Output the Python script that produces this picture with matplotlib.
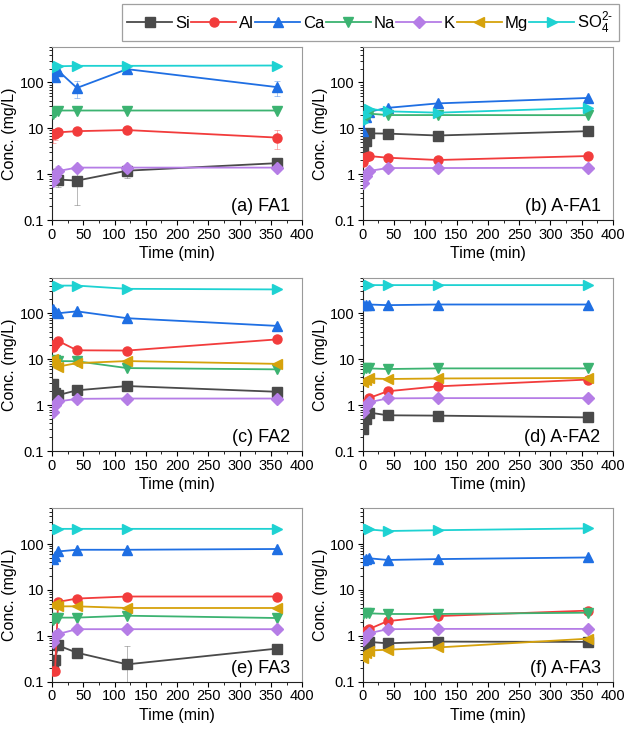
import numpy as np
import matplotlib
matplotlib.use("Agg")
import matplotlib.pyplot as plt
from matplotlib.ticker import FixedLocator, NullFormatter, LogLocator, MultipleLocator

plt.rcParams['font.family'] = ['Liberation Sans', 'DejaVu Sans']
plt.rcParams['mathtext.fontset'] = 'custom'
plt.rcParams['mathtext.rm'] = 'Liberation Sans'

# sampling times (min)
t = [1, 5, 10, 40, 120, 360]

species = ['Si', 'Al', 'Ca', 'Na', 'K', 'Mg', 'SO4']
labels = ['Si', 'Al', 'Ca', 'Na', 'K', 'Mg', r'SO$_4^{2\text{-}}$']
colors = ['#4a4a4a', '#f23c3c', '#1f6fe3', '#3cb371', '#b57de6', '#d6a20c', '#1ed2d2']
markers = ['s', 'o', '^', 'v', 'D', '<', '>']

# (a) FA1 - no Mg
fa1 = {'Si': [1.0, 0.8, 0.77, 0.73, 1.2, 1.75],
       'Al': [7.4, 7.5, 8.2, 8.7, 9.2, 6.3],
       'Ca': [142, 130, 180, 76, 195, 79],
       'Na': [21, 23, 24.5, 24.5, 24.5, 24.5],
       'K': [0.72, 0.9, 1.18, 1.4, 1.4, 1.4],
       'SO4': [200, 215, 225, 230, 230, 234]}
fa1_err = {'Si': [0, 0, 0.25, 0.52, 0.35, 0.5],
           'Al': [2.5, 2.0, 1.0, 0, 0, 2.8],
           'Ca': [0, 0, 0, 30, 0, 28],
           'K': [0, 0, 0.3, 0, 0, 0]}

# (b) A-FA1 - no Mg
afa1 = {'Si': [3.2, 5.3, 7.8, 7.7, 7.0, 8.7],
        'Al': [1.9, 2.4, 2.5, 2.3, 2.05, 2.5],
        'Ca': [8.7, 18, 23, 28, 35, 46],
        'Na': [16, 18, 21, 19.5, 19.5, 19.4],
        'K': [0.66, 0.92, 1.18, 1.37, 1.37, 1.39],
        'SO4': [14, 20, 27, 23.5, 22, 28]}

# (c) FA2
fa2 = {'Si': [2.9, 1.85, 1.65, 2.1, 2.6, 1.95],
       'Al': [18, 21.4, 25, 15.6, 15.4, 27],
       'Ca': [122, 105, 100, 110, 78, 53],
       'Na': [9.0, 9.5, 9.1, 9.0, 6.4, 6.0],
       'K': [0.7, 1.0, 1.2, 1.37, 1.39, 1.39],
       'Mg': [10, 7.9, 6.9, 8.2, 9.1, 7.9],
       'SO4': [420, 400, 400, 400, 340, 330]}

# (d) A-FA2
afa2 = {'Si': [0.3, 0.5, 0.69, 0.6, 0.59, 0.54],
        'Al': [0.85, 1.1, 1.42, 2.0, 2.56, 3.6],
        'Ca': [150, 152, 155, 150, 155, 155],
        'Na': [5.8, 6.3, 6.3, 6.1, 6.3, 6.3],
        'K': [0.7, 0.97, 1.15, 1.4, 1.42, 1.42],
        'Mg': [3.2, 3.6, 3.8, 3.7, 3.8, 3.9],
        'SO4': [400, 405, 410, 410, 410, 410]}

# (e) FA3
fa3 = {'Si': [0.2, 0.3, 0.62, 0.43, 0.24, 0.53],
       'Al': [0.17, 0.17, 5.5, 6.5, 7.2, 7.2],
       'Ca': [47, 55, 69, 75, 75, 78],
       'Na': [2.2, 2.5, 2.5, 2.5, 2.75, 2.45],
       'K': [0.75, 0.97, 1.1, 1.4, 1.4, 1.4],
       'Mg': [4.8, 5.0, 4.4, 4.4, 4.05, 4.05],
       'SO4': [200, 210, 214, 214, 214, 214]}
fa3_err = {'Si': [0, 0, 0, 0, 0.35, 0]}

# (f) A-FA3
afa3 = {'Si': [0.45, 0.58, 0.74, 0.69, 0.75, 0.74],
        'Al': [1.0, 1.25, 1.4, 2.1, 2.7, 3.55],
        'Ca': [45, 47, 49, 45, 47, 51],
        'Na': [3.0, 3.1, 3.1, 3.0, 3.0, 3.2],
        'K': [0.8, 1.0, 1.14, 1.4, 1.42, 1.42],
        'Mg': [0.33, 0.42, 0.48, 0.5, 0.56, 0.87],
        'SO4': [210, 220, 208, 192, 200, 219]}

panels = [(fa1, fa1_err, '(a) FA1'), (afa1, None, '(b) A-FA1'),
          (fa2, None, '(c) FA2'), (afa2, None, '(d) A-FA2'),
          (fa3, fa3_err, '(e) FA3'), (afa3, None, '(f) A-FA3')]

fig, axes = plt.subplots(3, 2, figsize=(6.25, 7.3), dpi=100)
fig.subplots_adjust(left=0.083, right=0.981, top=0.936, bottom=0.066,
                    wspace=0.24, hspace=0.33)

for ax, (data, err, title) in zip(axes.flat, panels):
    for sp, lab, c, m in zip(species, labels, colors, markers):
        if sp not in data:
            continue
        yerr = None
        if err is not None and sp in err:
            yerr = err[sp]
        h = ax.errorbar(t, data[sp], yerr=yerr, color=c, marker=m, ms=6.5,
                        lw=1.3, ecolor=c, elinewidth=0.6, capsize=2.5,
                        capthick=0.6, label=lab, zorder=3)
        if yerr is not None:
            for bar in h[2]:
                bar.set_alpha(0.45)
            for cap in h[1]:
                cap.set_alpha(0.45)
    ax.set_yscale('log')
    ax.set_ylim(0.1, 600)
    ax.set_xlim(0, 400)
    ax.yaxis.set_major_locator(FixedLocator([0.1, 1, 10, 100]))
    ax.set_yticklabels(['0.1', '1', '10', '100'])
    ax.yaxis.set_minor_locator(LogLocator(base=10, subs=np.arange(2, 10)))
    ax.yaxis.set_minor_formatter(NullFormatter())
    ax.xaxis.set_major_locator(MultipleLocator(50))
    ax.xaxis.set_minor_locator(MultipleLocator(25))
    ax.tick_params(which='major', direction='out', length=3.5, width=0.8,
                   labelsize=10.5, pad=2)
    ax.tick_params(which='minor', direction='out', length=2, width=0.6)
    for s in ['top', 'right']:
        ax.spines[s].set_color('#9a9a9a')
    for s in ['left', 'bottom']:
        ax.spines[s].set_color('#222222')
    ax.set_xlabel('Time (min)', fontsize=11.5, labelpad=3)
    ax.set_ylabel('Conc. (mg/L)', fontsize=11.5, labelpad=2)
    ax.text(0.95, 0.03, title, transform=ax.transAxes, ha='right', va='bottom',
            fontsize=13)

# legend built from panel (c), which has every species
hs, ls = axes[1, 0].get_legend_handles_labels()
leg = fig.legend(hs, ls, loc='upper right', bbox_to_anchor=(0.995, 0.999),
                 ncol=7, fontsize=12, handlelength=2.7, handletextpad=0.15,
                 columnspacing=0.1, borderpad=0.35, frameon=True, fancybox=False,
                 edgecolor='#888888', borderaxespad=0.2)
leg.get_frame().set_linewidth(0.9)

fig.savefig('out.png', dpi=100)
